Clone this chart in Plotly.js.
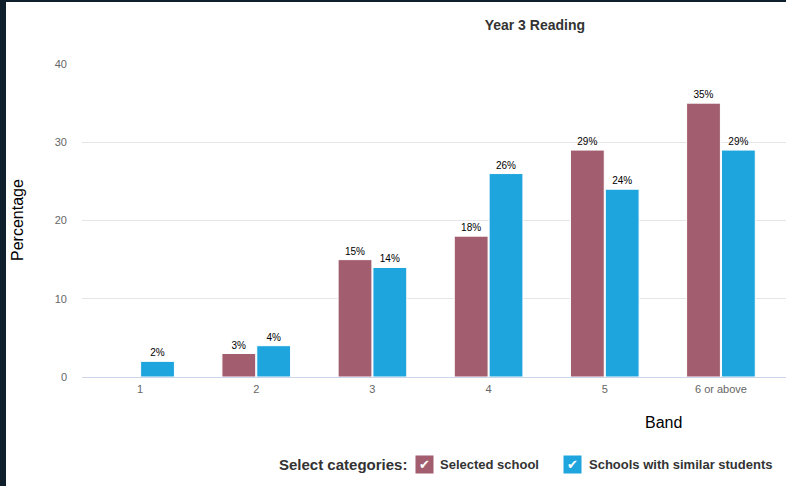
<!DOCTYPE html>
<html>
<head>
<meta charset="utf-8">
<script src="https://cdn.plot.ly/plotly-3.0.1.min.js"></script>
<style>
  html, body { margin: 0; padding: 0; background: #0f1f2c; width: 786px; height: 486px; overflow: hidden; }
  #chart { position: absolute; left: 6px; top: 2px; width: 780px; height: 484px; background: #fff; }
</style>
</head>
<body>
<div id="chart"></div>
<script>
const bands = ["1", "2", "3", "4", "5", "6 or above"];
const selectedSchool = [null, 3, 15, 18, 29, 35];
const similarSchools = [2, 4, 14, 26, 24, 29];
const seriesNames = ["Selected school", "Schools with similar students"];
const seriesColors = ["#a25d6e", "#1ea5de"];

const fmt = arr => arr.map(v => v === null ? "" : v + "%");

const traces = [
  {
    type: "bar", x: bands, y: selectedSchool, name: seriesNames[0],
    marker: { color: seriesColors[0], line: { color: "#ffffff", width: 1 } },
    text: fmt(selectedSchool), textposition: "outside", cliponaxis: false,
    textfont: { family: "Liberation Sans, Arial, sans-serif", size: 10, color: "#000" },
    hoverinfo: "x+y"
  },
  {
    type: "bar", x: bands, y: similarSchools, name: seriesNames[1],
    marker: { color: seriesColors[1], line: { color: "#ffffff", width: 1 } },
    text: fmt(similarSchools), textposition: "outside", cliponaxis: false,
    textfont: { family: "Liberation Sans, Arial, sans-serif", size: 10, color: "#000" },
    hoverinfo: "x+y"
  }
];

const F = "Liberation Sans, Arial, sans-serif";
const layout = {
  width: 780, height: 484,
  margin: { l: 76, r: 0, t: 62, b: 109 },
  paper_bgcolor: "#ffffff", plot_bgcolor: "#ffffff",
  font: { family: F, color: "#333" },
  showlegend: false,
  barmode: "group", bargap: 0.4, bargroupgap: 0.03,
  title: {
    text: "<b>Year 3 Reading</b>",
    font: { family: F, size: 14, color: "#333" },
    x: 0.678, xanchor: "center", y: 0.952, yanchor: "middle"
  },
  xaxis: {
    type: "category", range: [-0.5, 5.56],
    showgrid: false, zeroline: false,
    showline: false, ticks: "",
    tickfont: { family: F, size: 11, color: "#666666" },
    ticklabelstandoff: 4
  },
  yaxis: {
    range: [0, 40], tickvals: [0, 10, 20, 30, 40],
    showgrid: true, gridcolor: "#e6e6e6", gridwidth: 1,
    zeroline: true, zerolinecolor: "#ccd6eb", zerolinewidth: 1,
    showline: false, ticks: "",
    tickfont: { family: F, size: 11, color: "#666666" },
    ticklabelstandoff: 14
  },
  annotations: [
    { text: "Percentage", xref: "paper", yref: "paper", x: -0.0909, y: 0.5016,
      textangle: -90, showarrow: false, xanchor: "center", yanchor: "middle",
      font: { family: F, size: 16, color: "#000" } },
    { text: "Band", xref: "paper", yref: "paper", x: 0.8267, y: -0.1438,
      showarrow: false, xanchor: "center", yanchor: "middle",
      font: { family: F, size: 16, color: "#000" } },
    { text: "<b>Select categories:</b>", xref: "paper", yref: "paper", x: 0.4645, y: -0.281,
      showarrow: false, xanchor: "right", yanchor: "middle",
      font: { family: F, size: 15, color: "#333" } },
    { text: "✔", xref: "paper", yref: "paper", x: 0.4858, y: -0.281,
      showarrow: false, xanchor: "center", yanchor: "middle",
      width: 17, height: 17, bgcolor: seriesColors[0], borderpad: 0,
      font: { family: "DejaVu Sans", size: 13, color: "#fff" } },
    { text: "<b>" + seriesNames[0] + "</b>", xref: "paper", yref: "paper", x: 0.5057, y: -0.281,
      showarrow: false, xanchor: "left", yanchor: "middle",
      font: { family: F, size: 13, color: "#333" } },
    { text: "✔", xref: "paper", yref: "paper", x: 0.6967, y: -0.281,
      showarrow: false, xanchor: "center", yanchor: "middle",
      width: 17, height: 17, bgcolor: seriesColors[1], borderpad: 0,
      font: { family: "DejaVu Sans", size: 13, color: "#fff" } },
    { text: "<b>" + seriesNames[1] + "</b>", xref: "paper", yref: "paper", x: 0.7173, y: -0.281,
      showarrow: false, xanchor: "left", yanchor: "middle",
      font: { family: F, size: 13, color: "#333" } }
  ]
};

Plotly.newPlot("chart", traces, layout, { displayModeBar: false, staticPlot: true });
</script>
</body>
</html>
